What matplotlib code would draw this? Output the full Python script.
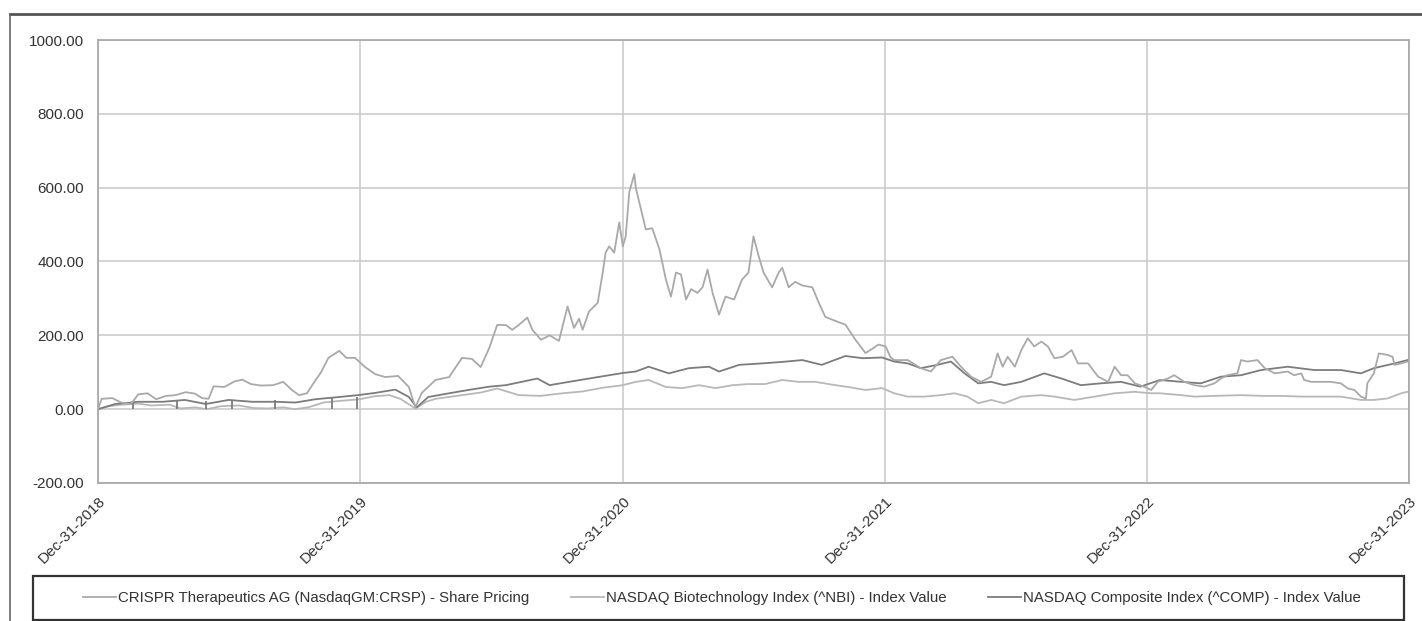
import numpy as np
import pandas as pd
import matplotlib.pyplot as plt
from matplotlib.lines import Line2D
from matplotlib.patches import Rectangle

plt.rcParams['font.family'] = ['Liberation Sans', 'DejaVu Sans']

# CRISPR Therapeutics - share pricing (% change since Dec-31-2018)
crispr_dates = [
    "2018-12-31", "2019-01-05", "2019-01-20", "2019-02-01", "2019-02-15", "2019-02-25",
    "2019-03-10", "2019-03-22", "2019-04-05", "2019-04-18", "2019-05-02", "2019-05-15",
    "2019-05-25", "2019-06-03", "2019-06-10", "2019-06-25", "2019-07-09", "2019-07-20",
    "2019-08-01", "2019-08-15", "2019-09-01", "2019-09-15", "2019-09-27", "2019-10-07",
    "2019-10-18", "2019-10-27", "2019-11-06", "2019-11-17", "2019-12-02", "2019-12-12",
    "2019-12-24", "2020-01-07", "2020-01-21", "2020-02-04", "2020-02-22", "2020-03-08",
    "2020-03-17", "2020-03-26", "2020-04-14", "2020-05-03", "2020-05-21", "2020-06-04",
    "2020-06-16", "2020-06-28", "2020-07-09", "2020-07-21", "2020-07-30", "2020-08-08",
    "2020-08-20", "2020-08-27", "2020-09-08", "2020-09-20", "2020-10-03", "2020-10-15",
    "2020-10-24", "2020-10-31", "2020-11-05", "2020-11-14", "2020-11-26", "2020-12-03",
    "2020-12-07", "2020-12-12", "2020-12-19", "2020-12-26", "2020-12-31", "2021-01-04",
    "2021-01-09", "2021-01-16", "2021-01-18", "2021-01-23", "2021-02-01", "2021-02-10",
    "2021-02-20", "2021-03-01", "2021-03-08", "2021-03-15", "2021-03-22", "2021-03-29",
    "2021-04-05", "2021-04-14", "2021-04-21", "2021-04-28", "2021-05-05", "2021-05-14",
    "2021-05-23", "2021-06-04", "2021-06-15", "2021-06-24", "2021-07-01", "2021-07-08",
    "2021-07-15", "2021-07-27", "2021-08-05", "2021-08-10", "2021-08-19", "2021-08-28",
    "2021-09-07", "2021-09-21", "2021-09-30", "2021-10-09", "2021-10-23", "2021-11-06",
    "2021-11-20", "2021-12-04", "2021-12-13", "2021-12-22", "2022-01-01", "2022-01-08",
    "2022-01-13", "2022-02-01", "2022-02-19", "2022-03-05", "2022-03-19", "2022-04-04",
    "2022-04-16", "2022-04-30", "2022-05-14", "2022-05-28", "2022-06-06", "2022-06-13",
    "2022-06-20", "2022-06-30", "2022-07-09", "2022-07-18", "2022-07-27", "2022-08-06",
    "2022-08-15", "2022-08-24", "2022-09-05", "2022-09-17", "2022-09-26", "2022-10-10",
    "2022-10-24", "2022-11-07", "2022-11-16", "2022-11-25", "2022-12-04", "2022-12-14",
    "2022-12-27", "2023-01-06", "2023-01-15", "2023-01-29", "2023-02-07", "2023-02-21",
    "2023-03-07", "2023-03-21", "2023-04-04", "2023-04-13", "2023-04-22", "2023-05-06",
    "2023-05-11", "2023-05-20", "2023-06-03", "2023-06-13", "2023-06-27", "2023-07-15",
    "2023-07-24", "2023-08-03", "2023-08-07", "2023-08-17", "2023-09-13", "2023-09-27",
    "2023-10-07", "2023-10-16", "2023-10-25", "2023-11-01", "2023-11-03", "2023-11-12",
    "2023-11-19", "2023-12-01", "2023-12-08", "2023-12-11", "2023-12-20", "2023-12-29",
]
crispr_vals = [
    0, 28, 30, 18, 14, 40,
    43, 27, 36, 38, 46, 42,
    30, 28, 62, 60, 75, 80,
    68, 64, 65, 74, 52, 38,
    43, 70, 98, 139, 158, 139,
    139, 114, 95, 87, 90, 60,
    5, 44, 79, 87, 139, 136,
    114, 166, 228, 228, 215, 228,
    248, 215, 188, 200, 185, 278,
    220, 245, 215, 265, 288, 370,
    424, 441, 424, 506, 441, 468,
    588, 637, 600, 560, 487, 490,
    433, 351, 305, 370, 365, 297,
    325, 315, 330, 378, 315, 256,
    305, 297, 351, 370, 468, 416,
    370, 330, 370, 383, 330, 345,
    335, 330, 288, 250, 239, 229,
    188, 152, 163, 175, 170, 140,
    133, 133, 111, 102, 133, 142,
    115, 88, 74, 88, 151, 115,
    142, 115, 160, 192, 170, 183,
    170, 138, 142, 160, 124, 124,
    88, 74, 115, 92, 92, 70,
    61, 52, 74, 83, 92, 74,
    65, 61, 70, 83, 92, 97,
    133, 129, 133, 111, 97, 102,
    92, 97, 79, 74, 74, 70,
    56, 52, 34, 29, 70, 97,
    151, 147, 142, 120, 124, 129,
]

# NASDAQ Biotechnology Index (^NBI)
nbi_dates = [
    "2018-12-31", "2019-01-15", "2019-02-01", "2019-02-25", "2019-03-15", "2019-04-10",
    "2019-04-25", "2019-05-15", "2019-06-01", "2019-06-20", "2019-07-15", "2019-08-05",
    "2019-08-25", "2019-09-15", "2019-10-01", "2019-10-20", "2019-11-10", "2019-12-01",
    "2019-12-31", "2020-01-20", "2020-02-10", "2020-02-25", "2020-03-17", "2020-04-01",
    "2020-04-14", "2020-05-21", "2020-06-16", "2020-07-09", "2020-08-08", "2020-09-08",
    "2020-10-03", "2020-11-05", "2020-12-03", "2020-12-31", "2021-01-18", "2021-02-05",
    "2021-03-01", "2021-03-24", "2021-04-16", "2021-05-09", "2021-06-02", "2021-06-24",
    "2021-07-17", "2021-08-10", "2021-09-02", "2021-09-25", "2021-10-23", "2021-11-10",
    "2021-12-04", "2021-12-27", "2022-01-13", "2022-02-01", "2022-02-24", "2022-03-19",
    "2022-04-07", "2022-04-25", "2022-05-10", "2022-05-28", "2022-06-15", "2022-07-09",
    "2022-08-06", "2022-08-24", "2022-09-21", "2022-10-19", "2022-11-16", "2022-12-14",
    "2023-01-06", "2023-01-18", "2023-02-17", "2023-03-07", "2023-04-04", "2023-05-11",
    "2023-06-08", "2023-07-06", "2023-08-03", "2023-08-30", "2023-09-27", "2023-10-25",
    "2023-11-12", "2023-12-01", "2023-12-20", "2023-12-29",
]
nbi_vals = [
    0, 8, 12, 15, 10, 12,
    2, 5, 0, 8, 10, 3,
    2, 5, 0, 5, 18, 22,
    27, 35, 38, 28, 2, 20,
    28, 38, 45, 56, 38, 36,
    42, 48, 58, 65, 74, 79,
    60, 57, 65, 57, 65, 68,
    68, 79, 74, 74, 65, 60,
    52, 57, 43, 34, 34, 38,
    43, 34, 16, 25, 16, 34,
    38, 34, 25, 34, 43, 47,
    43, 43, 38, 34, 36, 38,
    36, 36, 34, 34, 34, 25,
    25, 29, 43, 47,
]

# NASDAQ Composite Index (^COMP)
comp_dates = [
    "2018-12-31", "2019-01-24", "2019-02-25", "2019-03-31", "2019-05-01", "2019-05-30",
    "2019-07-01", "2019-08-03", "2019-09-04", "2019-10-02", "2019-10-30", "2019-11-27",
    "2019-12-28", "2020-01-21", "2020-02-18", "2020-03-08", "2020-03-19", "2020-04-04",
    "2020-05-03", "2020-05-30", "2020-06-28", "2020-07-21", "2020-09-03", "2020-09-20",
    "2020-10-17", "2020-11-14", "2020-12-12", "2020-12-31", "2021-01-18", "2021-02-05",
    "2021-03-05", "2021-04-02", "2021-04-30", "2021-05-14", "2021-06-11", "2021-07-13",
    "2021-08-10", "2021-09-07", "2021-10-04", "2021-11-06", "2021-11-30", "2021-12-27",
    "2022-01-13", "2022-02-01", "2022-02-19", "2022-03-14", "2022-04-02", "2022-04-21",
    "2022-05-10", "2022-05-28", "2022-06-15", "2022-07-09", "2022-08-10", "2022-09-03",
    "2022-09-30", "2022-10-28", "2022-11-25", "2022-12-22", "2023-01-18", "2023-02-17",
    "2023-03-16", "2023-04-13", "2023-05-11", "2023-06-08", "2023-07-15", "2023-08-21",
    "2023-09-27", "2023-10-25", "2023-11-12", "2023-12-11", "2023-12-29",
]
comp_vals = [
    0, 14, 20, 20, 25, 14,
    25, 20, 20, 18, 27, 32,
    38, 44, 53, 33, 5, 33,
    43, 52, 61, 65, 83, 65,
    74, 83, 92, 98, 102, 115,
    97, 111, 115, 102, 120, 124,
    128, 133, 120, 144, 138, 140,
    129, 124, 111, 120, 129, 97,
    70, 74, 65, 74, 97, 83,
    65, 70, 74, 61, 79, 74,
    70, 88, 92, 106, 115, 106,
    106, 97, 111, 124, 133,
]

# short drop-outs of the composite line in 2019
gap_dates = ["2019-02-18", "2019-04-20", "2019-05-30", "2019-07-06",
             "2019-09-04", "2019-11-22", "2019-12-27"]
gap_tops = [20, 25, 22, 25, 25, 30, 32]

labels = ["CRISPR Therapeutics AG (NasdaqGM:CRSP) - Share Pricing",
          "NASDAQ Biotechnology Index (^NBI) - Index Value",
          "NASDAQ Composite Index (^COMP) - Index Value"]
tick_dates = ["2018-12-31", "2019-12-31", "2020-12-31",
              "2021-12-31", "2022-12-31", "2023-12-31"]

W, H = 1422, 621
fig = plt.figure(figsize=(W / 100, H / 100), dpi=100)
ax = fig.add_axes([98 / W, 1 - 483 / H, (1409 - 98) / W, (483 - 40) / H])

c_crispr = "#a9a9a9"
c_nbi = "#b8b8b8"
c_comp = "#7c7c7c"

ax.plot(pd.to_datetime(nbi_dates), nbi_vals, color=c_nbi, lw=1.3, label=labels[1])
ax.plot(pd.to_datetime(comp_dates), comp_vals, color=c_comp, lw=1.3, label=labels[2])
ax.vlines(pd.to_datetime(gap_dates), 0, gap_tops, color=c_comp, lw=1.3)
ax.plot(pd.to_datetime(crispr_dates), crispr_vals, color=c_crispr, lw=1.3, label=labels[0])

ax.set_ylim(-200, 1000)
ax.set_yticks(np.arange(-200, 1001, 200))
ax.yaxis.set_major_formatter(plt.FormatStrFormatter('%.2f'))
ticks = pd.to_datetime(tick_dates)
ax.set_xlim(ticks[0], ticks[-1])
ax.set_xticks(ticks)
ax.set_xticklabels([d.strftime('%b-%d-%Y') for d in ticks], rotation=45,
                   ha='right', rotation_mode='anchor')
ax.tick_params(length=0, labelsize=11, colors='#333333')
ax.tick_params(axis='y', pad=10)
ax.tick_params(axis='x', pad=8)
ax.grid(True, color='#cccccc', lw=1.2)
for s in ax.spines.values():
    s.set_color('#aaaaaa')
    s.set_linewidth(1.3)

# outer frame lines of the screenshot
fig.add_artist(Line2D([10 / W, 1.0], [1 - 14 / H, 1 - 14 / H],
                      transform=fig.transFigure, color='#555555', lw=2))
fig.add_artist(Line2D([10 / W, 10 / W], [0, 1 - 14 / H],
                      transform=fig.transFigure, color='#666666', lw=1.2))

# legend box
fig.add_artist(Rectangle((33 / W, 1 / H), (1404 - 33) / W, (620 - 576) / H,
                         transform=fig.transFigure, fill=False,
                         edgecolor='#333333', lw=1.6))
h, l = ax.get_legend_handles_labels()
order = [2, 0, 1]
leg = fig.legend([h[i] for i in order], [l[i] for i in order], ncol=3,
                 loc='center', bbox_to_anchor=(722 / W, 1 - 598 / H),
                 fontsize=10.8, frameon=False, handlelength=2.2,
                 handletextpad=0.1, columnspacing=2.8, borderaxespad=0)
for t in leg.get_texts():
    t.set_color('#333333')

fig.savefig('out.png', dpi=100)
